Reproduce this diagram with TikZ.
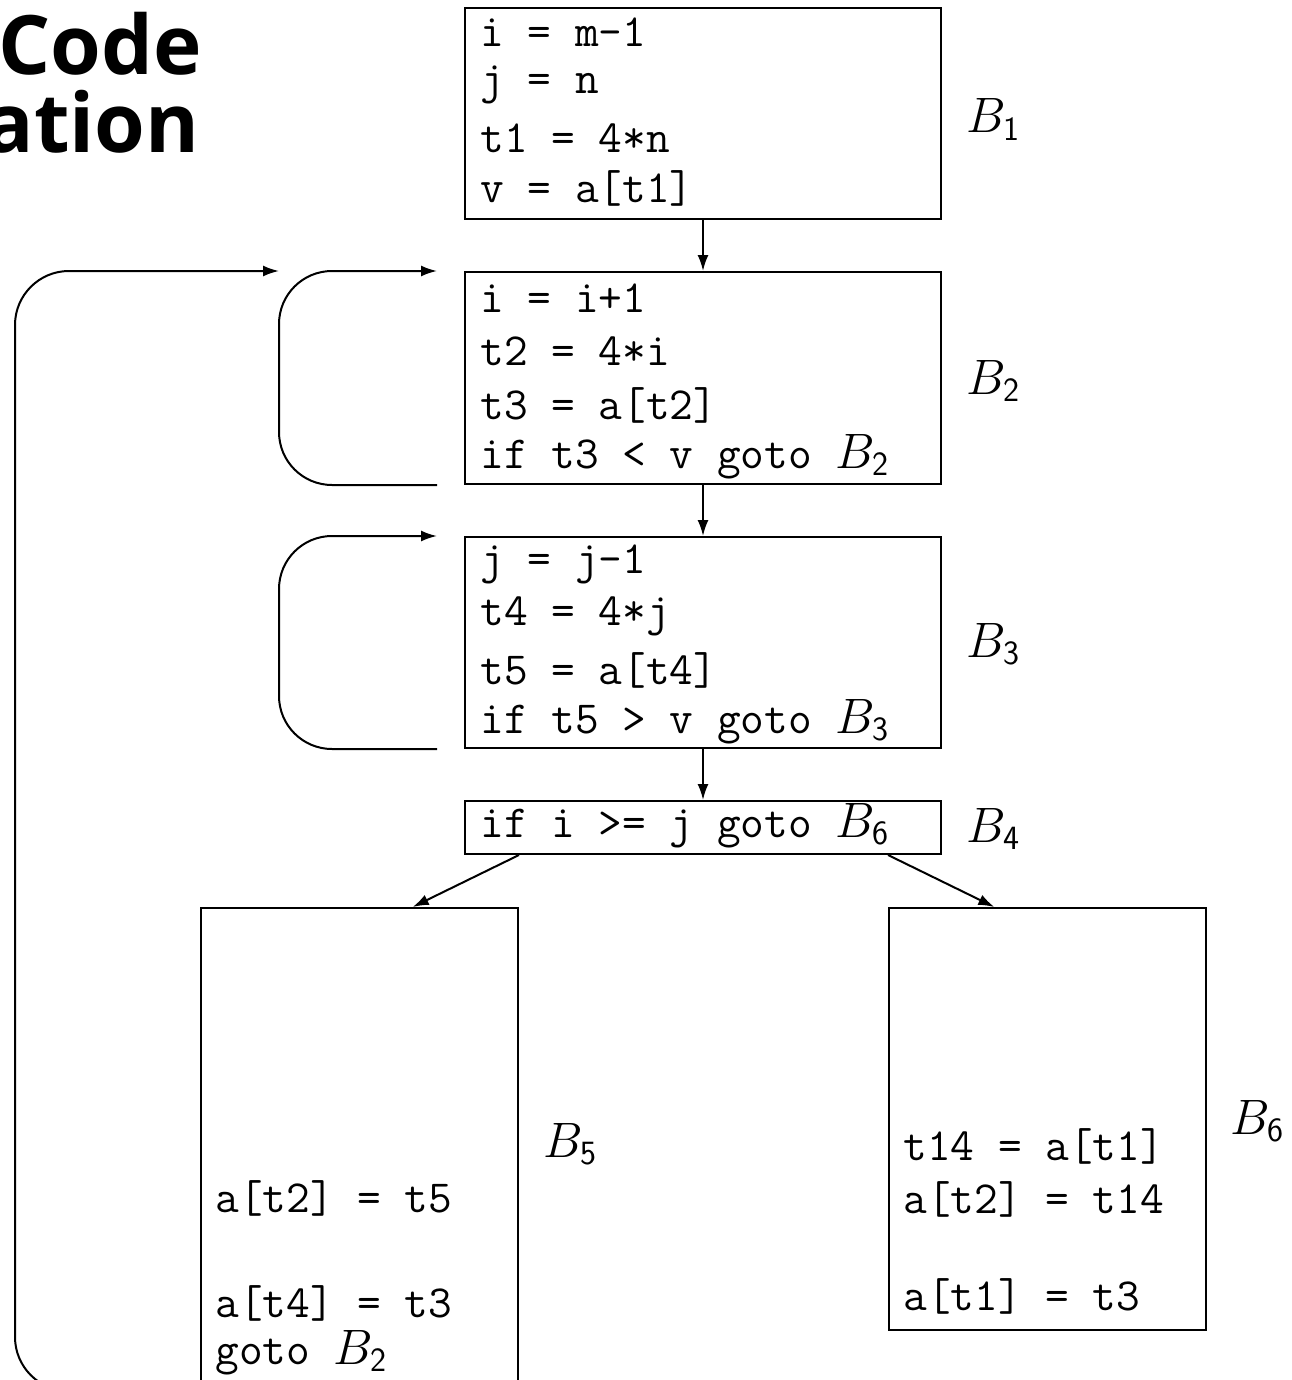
\documentclass[tikz,border=0pt]{standalone}
\usepackage{fontspec}
\newfontfamily\titlefont{Open Sans}
\usetikzlibrary{arrows.meta,calc}

\newcommand{\codesize}{\fontsize{23}{27}\selectfont}
\newcommand{\blk}[1]{B_{\mbox{\sffamily\fontsize{17}{17}\selectfont #1}}}
\tikzset{
  block/.style={draw, line width=1pt, inner sep=0pt},
  code/.style={anchor=base west, inner sep=0pt, font=\codesize\ttfamily},
  blabel/.style={anchor=base west, inner sep=0pt, font=\fontsize{24}{28}\selectfont},
  heading/.style={anchor=base east, inner sep=0pt,
    font=\titlefont\bfseries\fontsize{41}{42}\selectfont},
  flow/.style={line width=1pt, -{Latex[length=8pt,width=5.5pt]}},
}

\begin{document}
\begin{tikzpicture}[x=0.5pt, y=-0.5pt]
\useasboundingbox (0,0) rectangle (1291,1380);

% slide title, cut at the left edge
\node[heading] (title1) at (202,75) {Code};
\node[heading] (title2) at (200,153) {ation};

% basic blocks
\node[block, minimum width=238pt, minimum height=105.5pt] (b1) at (703,113.5) {};
\node[block, minimum width=238pt, minimum height=106pt]   (b2) at (703,378) {};
\node[block, minimum width=238pt, minimum height=105.5pt] (b3) at (703,642.5) {};
\node[block, minimum width=238pt, minimum height=26.5pt]  (b4) at (703,827.5) {};
\node[block, minimum width=158.5pt, minimum height=241pt] (b5) at (359.5,1149) {};
\node[block, minimum width=158.5pt, minimum height=211pt] (b6) at (1047.5,1119) {};

% code lines
\foreach \y/\txt [count=\i] in {47/{i = m-1}, 94/{j = n}, 153/{t1 = 4*n}, 203/{v = a[t1]}}
  \node[code] (c1-\i) at (480,\y) {\txt};
\foreach \y/\txt [count=\i] in {312/{i = i+1}, 365/{t2 = 4*i}, 419/{t3 = a[t2]},
    468/{if t3 < v goto $\blk{2}$}}
  \node[code] (c2-\i) at (480,\y) {\txt};
\foreach \y/\txt [count=\i] in {573/{j = j-1}, 625/{t4 = 4*j}, 684/{t5 = a[t4]},
    733/{if t5 > v goto $\blk{3}$}}
  \node[code] (c3-\i) at (480,\y) {\txt};
\node[code] (c4-1) at (480,837) {if i >= j goto $\blk{6}$};
\foreach \y/\txt [count=\i] in {1212/{a[t2] = t5}, 1317/{a[t4] = t3}, 1364/{goto $\blk{2}$}}
  \node[code] (c5-\i) at (215,\y) {\txt};
\foreach \y/\txt [count=\i] in {1160/{t14 = a[t1]}, 1213/{a[t2] = t14}, 1310/{a[t1] = t3}}
  \node[code] (c6-\i) at (903,\y) {\txt};

% block names
\node[blabel] (l1) at (966,133) {$\blk{1}$};
\node[blabel] (l2) at (966,394) {$\blk{2}$};
\node[blabel] (l3) at (966,657) {$\blk{3}$};
\node[blabel] (l4) at (966,842) {$\blk{4}$};
\node[blabel] (l5) at (543,1157) {$\blk{5}$};
\node[blabel] (l6) at (1230,1134) {$\blk{6}$};

% flow edges
\draw[flow] (b1) -- (b2);
\draw[flow] (b2) -- (b3);
\draw[flow] (b3) -- (b4);
\draw[flow] (b4.south -| b5.east) -- ($(b5.north west)!2/3!(b5.north east)$);
\draw[flow] (b4.south -| b6.west) -- ($(b6.north west)!1/3!(b6.north east)$);

% back edges
\draw[flow, rounded corners=26.5pt] ($(b2.south west)+(-27,0)$) -- ++(-158,0)
  |- ($(b2.north west)+(-27,0)$);
\draw[flow, rounded corners=26.5pt] ($(b3.south west)+(-27,0)$) -- ++(-158,0)
  |- ($(b3.north west)+(-27,0)$);
\draw[flow, rounded corners=27pt] (b5.south west) -- ++(-185,0)
  |- ($(b2.north west)+(-185,0)$);
\end{tikzpicture}
\end{document}
